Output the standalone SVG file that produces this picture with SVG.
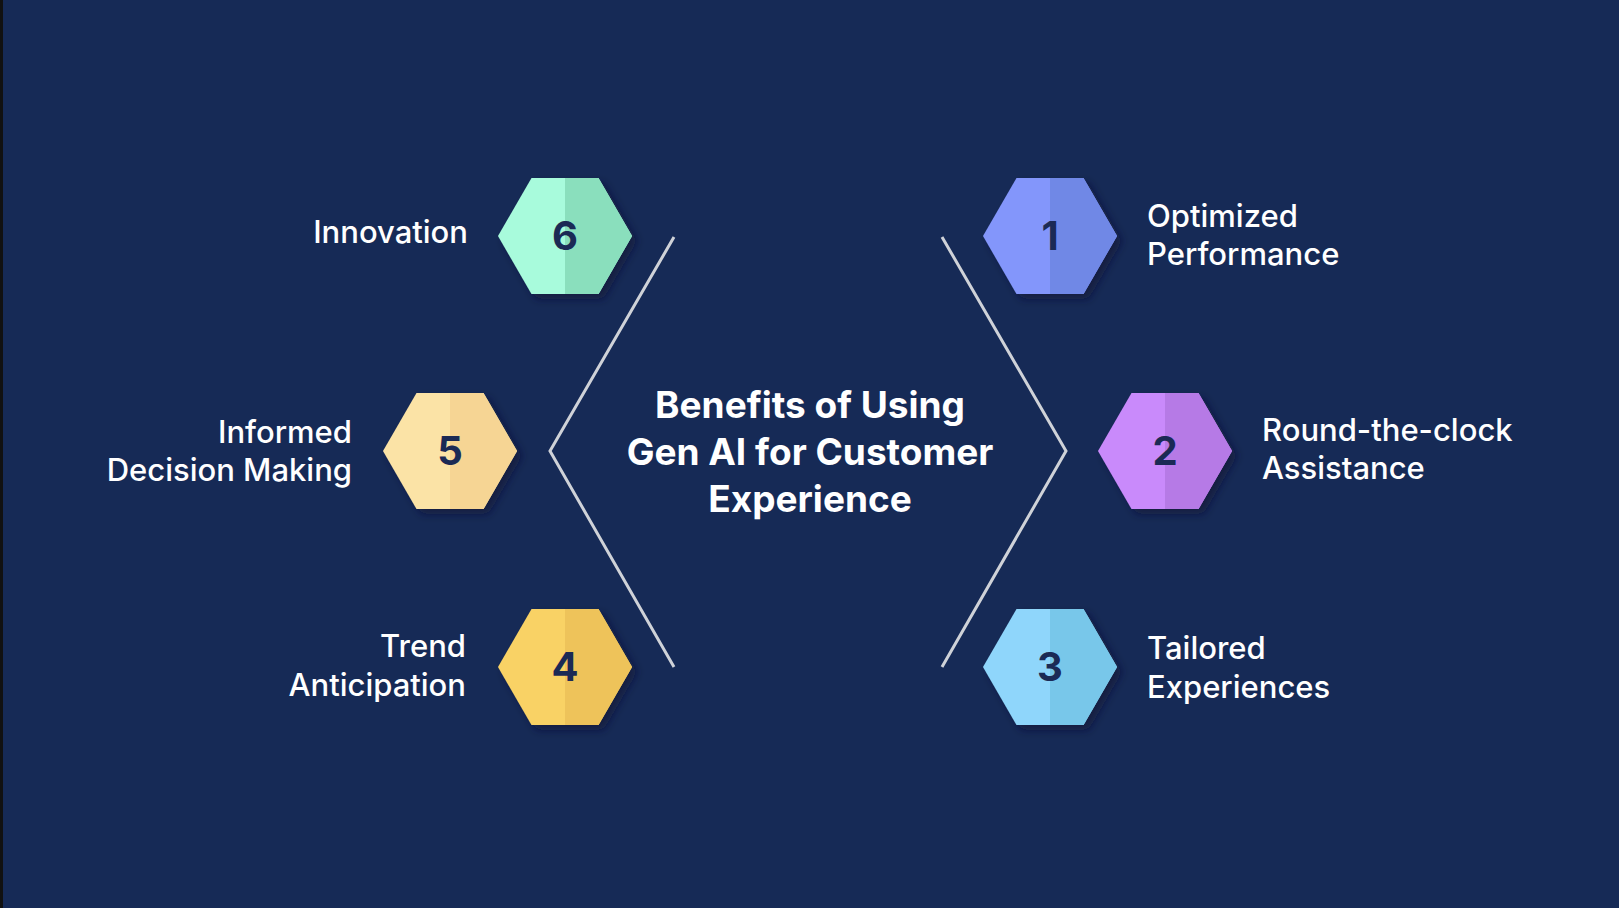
<svg xmlns="http://www.w3.org/2000/svg" width="1619" height="908" viewBox="0 0 1619 908">
<defs>
<style>
.lbl{font-family:Inter,"Open Sans",sans-serif;font-weight:500;font-size:31px;fill:#ffffff}
.num{font-family:Inter,"Open Sans",sans-serif;font-weight:700;font-size:40px;fill:#1b2a55;text-anchor:middle}
.ttl{font-family:Inter,"Open Sans",sans-serif;font-weight:700;font-size:37px;fill:#ffffff;text-anchor:middle}
.con{fill:none;stroke:#cfd2d8;stroke-width:3}
</style>
<filter id="sh" x="-20%" y="-20%" width="150%" height="150%"><feDropShadow dx="5" dy="5" stdDeviation="4" flood-color="#0a1530" flood-opacity="0.6"/></filter>
<path id="hx" d="M-67,0 L-33.5,-58 L33.5,-58 L67,0 L33.5,58 L-33.5,58 Z"/>
<path id="hr" d="M0,-58 L33.5,-58 L67,0 L33.5,58 L0,58 Z"/>
</defs>
<rect width="1619" height="908" fill="#162a56"/>
<rect width="3" height="908" fill="#111"/>
<g id="connectors">
<polyline class="con" points="674,237 550,451 674,667"/>
<polyline class="con" points="942,237 1066,451 942,667"/>
</g>
<g id="title">
<text class="ttl" x="810" y="418">Benefits of Using</text>
<text class="ttl" x="810" y="465">Gen AI for Customer</text>
<text class="ttl" x="810" y="512">Experience</text>
</g>
<g id="n6" transform="translate(565,236)"><use href="#hx" fill="#a8fbdc" filter="url(#sh)"/><use href="#hr" fill="#8adfbd"/><text class="num" y="14">6</text></g>
<g id="n5" transform="translate(450,451)"><use href="#hx" fill="#fbe3a6" filter="url(#sh)"/><use href="#hr" fill="#f6d594"/><text class="num" y="14">5</text></g>
<g id="n4" transform="translate(565,667)"><use href="#hx" fill="#f9d265" filter="url(#sh)"/><use href="#hr" fill="#eec35a"/><text class="num" y="14">4</text></g>
<g id="n1" transform="translate(1050,236)"><use href="#hx" fill="#8396fb" filter="url(#sh)"/><use href="#hr" fill="#7088e6"/><text class="num" y="14">1</text></g>
<g id="n2" transform="translate(1165,451)"><use href="#hx" fill="#c98afb" filter="url(#sh)"/><use href="#hr" fill="#b67ae6"/><text class="num" y="14">2</text></g>
<g id="n3" transform="translate(1050,667)"><use href="#hx" fill="#8fd6fb" filter="url(#sh)"/><use href="#hr" fill="#78c7ea"/><text class="num" y="14">3</text></g>
<g id="labels">
<text class="lbl" x="468" y="243" text-anchor="end">Innovation</text>
<text class="lbl" x="352" y="443" text-anchor="end">Informed</text>
<text class="lbl" x="352" y="481" text-anchor="end">Decision Making</text>
<text class="lbl" x="466" y="657" text-anchor="end">Trend</text>
<text class="lbl" x="466" y="696" text-anchor="end">Anticipation</text>
<text class="lbl" x="1147" y="227">Optimized</text>
<text class="lbl" x="1147" y="265">Performance</text>
<text class="lbl" x="1262" y="441">Round-the-clock</text>
<text class="lbl" x="1262" y="479">Assistance</text>
<text class="lbl" x="1147" y="659">Tailored</text>
<text class="lbl" x="1147" y="698">Experiences</text>
</g>
</svg>
